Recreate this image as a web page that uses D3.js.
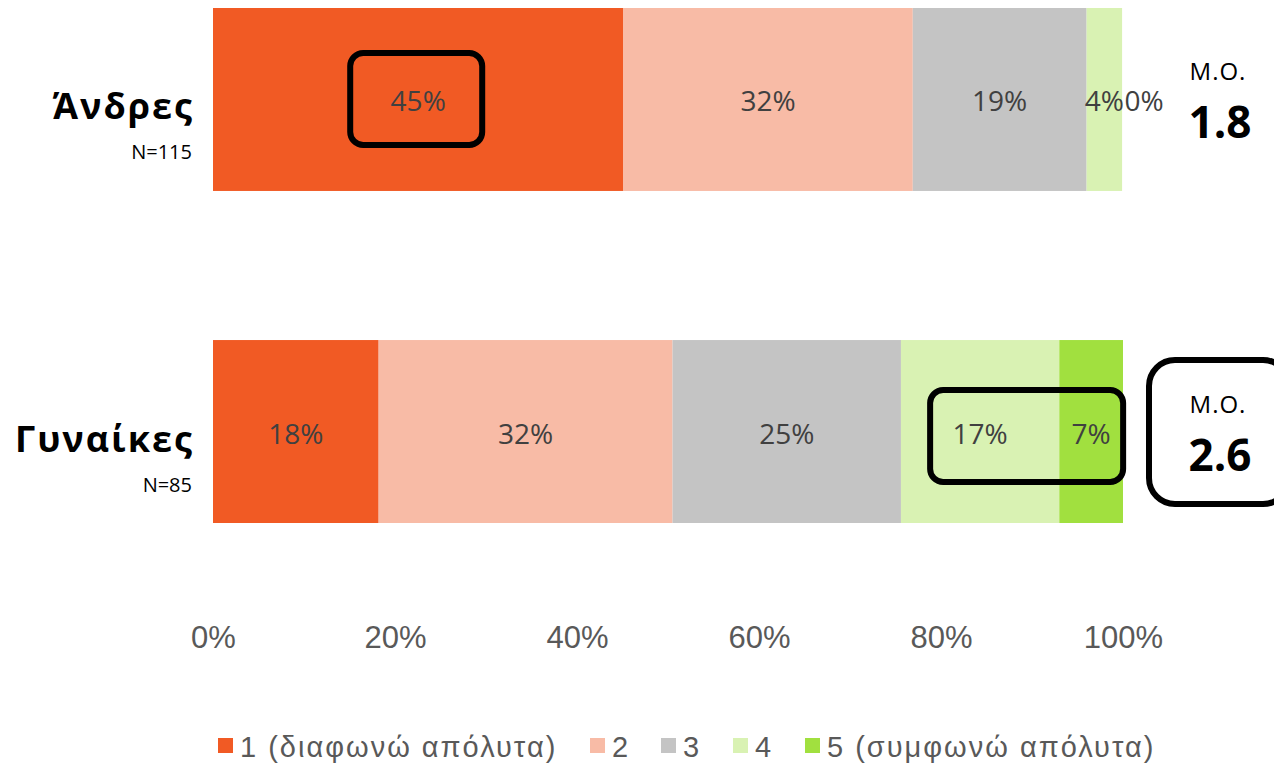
<!DOCTYPE html>
<meta charset="utf-8">
<style>
body { margin: 0; background: #fff; }
.tick text { font-family: "Liberation Sans", Arial, sans-serif; fill: #595959; }
</style>
<body>
<script src="https://d3js.org/d3.v7.min.js"></script>
<script>

// data
var groups = ["Άνδρες", "Γυναίκες"];
var groupN = ["N=115", "N=85"];
var means = ["1.8", "2.6"];
var keys = ["1 (διαφωνώ απόλυτα)", "2", "3", "4", "5 (συμφωνώ απόλυτα)"];
var men = [45.1, 31.8, 19.1, 3.9, 0.0];
var women = [18.2, 32.3, 25.1, 17.4, 7.0];
var labelsMen = ["45%", "32%", "19%", "4%", "0%"];
var labelsWomen = ["18%", "32%", "25%", "17%", "7%"];
var ticks = [0, 20, 40, 60, 80, 100];
var colors = ["#F15A24", "#F8BBA6", "#C4C4C4", "#D9F2B3", "#A1E03F"];

var width = 1274, height = 763;
var svg = d3.select("body").append("svg")
    .attr("width", width)
    .attr("height", height);

var x = d3.scaleLinear().domain([0, 100]).range([213, 1123]);
var y = d3.scaleBand().domain(groups).range([8, 523]).paddingInner(0.449).paddingOuter(0);

var rows = [men, women];
var rowLabels = [labelsMen, labelsWomen];

var textFont = "'Open Sans', 'Noto Sans', sans-serif";

groups.forEach(function(g, gi) {
  var vals = rows[gi];
  var cy = y(g) + y.bandwidth() / 2;
  var cum = 0;
  var segs = vals.map(function(v, i) {
    var s = {x0: cum, x1: cum + v, i: i, label: rowLabels[gi][i]};
    cum += v;
    return s;
  });
  var row = svg.append("g");
  row.selectAll("rect")
    .data(segs)
    .enter().append("rect")
      .attr("x", d => x(d.x0))
      .attr("width", d => x(d.x1) - x(d.x0))
      .attr("y", y(g))
      .attr("height", y.bandwidth())
      .attr("fill", d => colors[d.i]);

  row.selectAll("text.val")
    .data(segs)
    .enter().append("text")
      .attr("class", "val")
      .attr("x", function(d) {
        // zero-width last segment label sits just right of bar end
        if (d.x1 - d.x0 < 1) return x(d.x1) + 22;
        return (x(d.x0) + x(d.x1)) / 2;
      })
      .attr("y", cy + 12)
      .attr("text-anchor", "middle")
      .style("font-family", textFont)
      .style("font-size", "28px")
      .style("fill", "#404040")
      .text(d => d.label);

  // category label
  svg.append("text")
    .attr("x", 194)
    .attr("y", cy + 20)
    .attr("text-anchor", "end")
    .style("font-family", textFont)
    .style("font-weight", "bold")
    .style("font-size", "36px")
    .style("letter-spacing", "2px")
    .style("fill", "#000")
    .text(g);
  svg.append("text")
    .attr("x", 192)
    .attr("y", cy + 60)
    .attr("text-anchor", "end")
    .style("font-family", textFont)
    .style("font-size", "20px")
    .style("fill", "#000")
    .text(groupN[gi]);

  // mean
  svg.append("text")
    .attr("x", 1218)
    .attr("y", cy - 19)
    .attr("text-anchor", "middle")
    .style("font-family", textFont)
    .style("font-size", "24px")
    .style("letter-spacing", "1px")
    .style("fill", "#000")
    .text("Μ.Ο.");
  svg.append("text")
    .attr("x", 1220)
    .attr("y", cy + 39)
    .attr("text-anchor", "middle")
    .style("font-family", textFont)
    .style("font-weight", "bold")
    .style("font-size", "44px")
    .style("fill", "#000")
    .text(means[gi]);
});

// highlight boxes
function box(x0, y0, w, h, r) {
  svg.append("rect")
    .attr("x", x0).attr("y", y0)
    .attr("width", w).attr("height", h)
    .attr("rx", r).attr("ry", r)
    .attr("fill", "none")
    .attr("stroke", "#000")
    .attr("stroke-width", 6);
}
box(x(men[0] / 2) - 68, y(groups[0]) + 45, 132, 92, 13);
box(x(women[0] + women[1] + women[2] + women[3] / 2) - 50, y(groups[1]) + 50, 193, 92, 13);
box(1149, y(groups[1]) + 20, 140, 144, 26);

// x axis
var axis = svg.append("g")
    .attr("transform", "translate(0,648)")
    .call(d3.axisBottom(x).tickValues(ticks).tickFormat(d => d + "%").tickSize(0).tickPadding(0));
axis.select(".domain").remove();
axis.selectAll(".tick text")
    .style("font-size", "31px")
    .attr("y", 0)
    .attr("dy", 0);

// legend
var legendX = [218, 590, 661, 733, 805];
var legend = svg.append("g");
keys.forEach(function(k, i) {
  legend.append("rect")
    .attr("x", legendX[i]).attr("y", 738)
    .attr("width", 15).attr("height", 15)
    .attr("fill", colors[i]);
  legend.append("text")
    .attr("x", legendX[i] + 22).attr("y", 757)
    .style("font-family", "'Liberation Sans', Arial, sans-serif")
    .style("font-size", "29px")
    .style("letter-spacing", "2px")
    .style("fill", "#595959")
    .text(k);
});

</script>
</body>
